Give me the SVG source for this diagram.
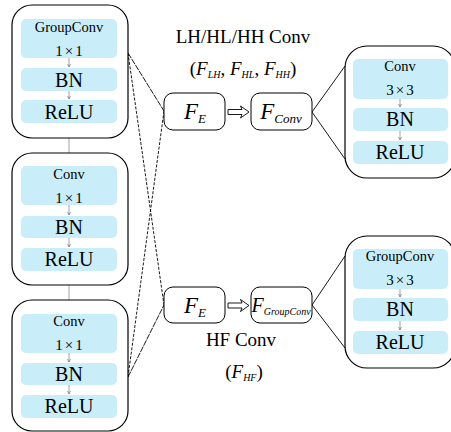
<svg xmlns="http://www.w3.org/2000/svg" width="451" height="432" viewBox="0 0 451 432" font-family="'Liberation Serif', 'DejaVu Serif', serif">
<style>
.outer{fill:#fff;stroke:#000;stroke-width:1.2}
.inner{fill:#c9eefa;stroke:none}
.mid{fill:#fff;stroke:#000;stroke-width:1}
.t{font-family:'Liberation Serif','DejaVu Serif',serif;fill:#000;text-anchor:middle}
.s{font-size:14.5px}
.k{font-size:15px;letter-spacing:2px}
.b{font-size:20px}
.m{font-size:19px}
.it{font-style:italic}
.small{stroke:#666;stroke-width:0.6;fill:none}
.ln{stroke:#000;stroke-width:0.9;fill:none}
.d1{stroke-dasharray:6 1}
.d2{stroke-dasharray:3 1.5}
</style>
<defs>
<marker id="ah" markerWidth="4" markerHeight="4" refX="3" refY="2" orient="auto" markerUnits="userSpaceOnUse">
<path d="M0,0.5 L3,2 L0,3.5" fill="none" stroke="#666" stroke-width="0.6"/>
</marker>
<clipPath id="gcclip"><rect x="251" y="287" width="61" height="36" rx="9"/></clipPath>
</defs>
<rect width="451" height="432" fill="#fff"/>
<g id="connectors">
<line class="small" x1="69" y1="138" x2="69" y2="153"/>
<line class="small" x1="69" y1="285" x2="69" y2="300"/>
<line class="ln d1" x1="128" y1="53" x2="164" y2="111"/>
<line class="ln d2" x1="128" y1="53" x2="164" y2="305"/>
<line class="ln d2" x1="128" y1="377" x2="164" y2="111"/>
<line class="ln d1" x1="128" y1="377" x2="164" y2="305"/>
<line class="ln" x1="312" y1="112" x2="345" y2="66"/>
<line class="ln" x1="312" y1="112" x2="345" y2="159"/>
<line class="ln" x1="312" y1="305" x2="345" y2="256"/>
<line class="ln" x1="312" y1="305" x2="345" y2="348"/>
<path d="M228,109.5 H242 L240.5,106 L249,112 L240.5,118 L242,114.5 H228 Z" fill="#fff" stroke="#000" stroke-width="0.9" stroke-linejoin="round"/>
<path d="M228,303 H242 L240.5,299.5 L249,305.5 L240.5,311.5 L242,308 H228 Z" fill="#fff" stroke="#000" stroke-width="0.9" stroke-linejoin="round"/>
</g>
<g id="block1">
<rect class="outer" x="12" y="5" width="116" height="133" rx="20"/>
<rect class="inner" x="21" y="19" width="96" height="39" rx="5"/>
<rect class="inner" x="21" y="68" width="96" height="23" rx="5"/>
<rect class="inner" x="21" y="100" width="96" height="23" rx="5"/>
<line class="small" x1="69" y1="58" x2="69" y2="67" marker-end="url(#ah)"/>
<line class="small" x1="69" y1="91" x2="69" y2="99" marker-end="url(#ah)"/>
<text class="t s" x="69" y="31.5">GroupConv</text>
<text class="t k" x="70" y="55.5">1×1</text>
<text class="t b" x="69" y="87">BN</text>
<text class="t b" x="69" y="119">ReLU</text>
</g>
<g id="block2">
<rect class="outer" x="12" y="153" width="116" height="132" rx="20"/>
<rect class="inner" x="21" y="166" width="96" height="39" rx="5"/>
<rect class="inner" x="21" y="216" width="96" height="22" rx="5"/>
<rect class="inner" x="21" y="248" width="96" height="23" rx="5"/>
<line class="small" x1="69" y1="205" x2="69" y2="215" marker-end="url(#ah)"/>
<line class="small" x1="69" y1="238" x2="69" y2="247" marker-end="url(#ah)"/>
<text class="t s" x="69" y="178.5">Conv</text>
<text class="t k" x="70" y="203">1×1</text>
<text class="t b" x="69" y="234">BN</text>
<text class="t b" x="69" y="266">ReLU</text>
</g>
<g id="block3">
<rect class="outer" x="12" y="300" width="116" height="131" rx="20"/>
<rect class="inner" x="21" y="314" width="96" height="39" rx="5"/>
<rect class="inner" x="21" y="363" width="96" height="22" rx="5"/>
<rect class="inner" x="21" y="395" width="96" height="23" rx="5"/>
<line class="small" x1="69" y1="353" x2="69" y2="362" marker-end="url(#ah)"/>
<line class="small" x1="69" y1="385" x2="69" y2="394" marker-end="url(#ah)"/>
<text class="t s" x="69" y="325.5">Conv</text>
<text class="t k" x="70" y="350">1×1</text>
<text class="t b" x="69" y="381">BN</text>
<text class="t b" x="69" y="413">ReLU</text>
</g>
<g id="fe-top">
<rect class="mid" x="164" y="93" width="61" height="37" rx="9"/>
<text class="t it" x="195" y="119" font-size="23">F<tspan font-size="13" dy="4">E</tspan></text>
</g>
<g id="fconv">
<rect class="mid" x="251" y="93" width="61" height="37" rx="9"/>
<text class="t it" x="281" y="119" font-size="23">F<tspan font-size="13" dy="4">Conv</tspan></text>
</g>
<g id="fe-bottom">
<rect class="mid" x="164" y="287" width="61" height="36" rx="9"/>
<text class="t it" x="195" y="313" font-size="23">F<tspan font-size="13" dy="4">E</tspan></text>
</g>
<g id="fgroupconv">
<rect class="mid" x="251" y="287" width="61" height="36" rx="9"/>
<text class="it" x="251.5" y="312" font-size="20" clip-path="url(#gcclip)">F<tspan font-size="10" dy="3">GroupConv</tspan></text>
</g>
<g id="labels">
<text class="t m" x="243" y="43">LH/HL/HH Conv</text>
<text class="t m" x="243" y="75">(<tspan class="it">F</tspan><tspan class="it" font-size="10" dy="3">LH</tspan><tspan dy="-3">, </tspan><tspan class="it">F</tspan><tspan class="it" font-size="10" dy="3">HL</tspan><tspan dy="-3">, </tspan><tspan class="it">F</tspan><tspan class="it" font-size="10" dy="3">HH</tspan><tspan dy="-3">)</tspan></text>
<text class="t m" x="241" y="346">HF Conv</text>
<text class="t m" x="244" y="378">(<tspan class="it">F</tspan><tspan class="it" font-size="10" dy="3">HF</tspan><tspan dy="-3">)</tspan></text>
</g>
<g id="block-right-top">
<rect class="outer" x="345" y="46" width="110" height="132" rx="22"/>
<rect class="inner" x="353" y="59" width="95" height="40" rx="5"/>
<rect class="inner" x="353" y="108" width="95" height="23" rx="5"/>
<rect class="inner" x="353" y="141" width="95" height="23" rx="5"/>
<line class="small" x1="400" y1="99" x2="400" y2="107" marker-end="url(#ah)"/>
<line class="small" x1="400" y1="131" x2="400" y2="140" marker-end="url(#ah)"/>
<text class="t s" x="400" y="71">Conv</text>
<text class="t k" x="401" y="95">3×3</text>
<text class="t b" x="400" y="126">BN</text>
<text class="t b" x="400" y="159">ReLU</text>
</g>
<g id="block-right-bottom">
<rect class="outer" x="345" y="236" width="110" height="132" rx="22"/>
<rect class="inner" x="353" y="249" width="95" height="40" rx="5"/>
<rect class="inner" x="353" y="298" width="95" height="23" rx="5"/>
<rect class="inner" x="353" y="331" width="95" height="23" rx="5"/>
<line class="small" x1="400" y1="289" x2="400" y2="297" marker-end="url(#ah)"/>
<line class="small" x1="400" y1="321" x2="400" y2="330" marker-end="url(#ah)"/>
<text class="t s" x="400" y="261">GroupConv</text>
<text class="t k" x="401" y="285">3×3</text>
<text class="t b" x="400" y="316">BN</text>
<text class="t b" x="400" y="349">ReLU</text>
</g>
</svg>
